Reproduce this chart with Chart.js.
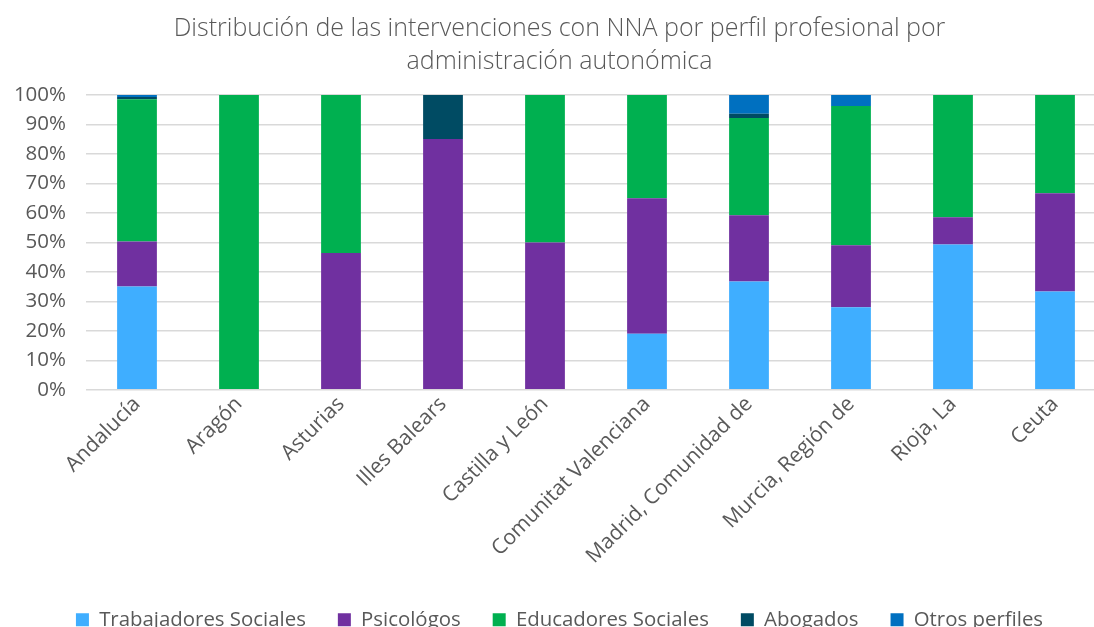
<!DOCTYPE html>
<html>
<head>
<meta charset="utf-8">
<script src="https://cdn.jsdelivr.net/npm/chart.js@4"></script>
<style>
  html, body { margin: 0; padding: 0; overflow: hidden; background: #fff; }
  #wrap { width: 1126px; height: 640px; }
</style>
</head>
<body>
<div id="wrap"><canvas id="chart"></canvas></div>
<script>
const regiones = ["Andalucía", "Aragón", "Asturias", "Illes Balears", "Castilla y León",
  "Comunitat Valenciana", "Madrid, Comunidad de", "Murcia, Región de", "Rioja, La", "Ceuta"];

const trabajadores = [35, 0, 0, 0, 0, 19, 36.7, 28, 49.3, 33.3];
const psicologos   = [15.3, 0, 46.4, 85.1, 50, 46, 22.5, 21, 9.2, 33.4];
const educadores   = [48.3, 100, 53.6, 0, 50, 35, 33, 47.3, 41.5, 33.3];
const abogados     = [0.7, 0, 0, 14.9, 0, 0, 1.4, 0, 0, 0];
const otros        = [0.7, 0, 0, 0, 0, 0, 6.4, 3.7, 0, 0];

const yTicks = [0, 10, 20, 30, 40, 50, 60, 70, 80, 90, 100];

const gris = "#595959";
const font = "'Open Sans', 'Noto Sans', sans-serif";

function serie(label, data, color) {
  return { label, data, backgroundColor: color, borderWidth: 0,
    barPercentage: 0.39, categoryPercentage: 1 };
}

new Chart(document.getElementById("chart"), {
  type: "bar",
  data: {
    labels: regiones,
    datasets: [
      serie("Trabajadores Sociales", trabajadores, "#3FAEFF"),
      serie("Psicológos", psicologos, "#7030A0"),
      serie("Educadores Sociales", educadores, "#00B050"),
      serie("Abogados", abogados, "#004B63"),
      serie("Otros perfiles", otros, "#0070C0")
    ]
  },
  options: {
    responsive: true,
    maintainAspectRatio: false,
    animation: false,
    layout: { padding: { left: 13, right: 20, top: 6, bottom: 0 } },
    plugins: {
      title: {
        display: true,
        text: ["Distribución de las intervenciones con NNA por perfil profesional por", "administración autonómica"],
        color: gris,
        font: { family: font, size: 25, weight: "300", lineHeight: 1.32 },
        padding: { top: 6, bottom: 17 }
      },
      legend: {
        position: "bottom",
        labels: {
          color: gris,
          font: { family: font, size: 20.4 },
          boxWidth: 13, boxHeight: 13,
          padding: 32
        }
      },
      tooltip: { enabled: false }
    },
    scales: {
      x: {
        stacked: true,
        grid: { display: false },
        border: { display: false },
        ticks: { color: gris, font: { family: font, size: 21 }, maxRotation: 45, minRotation: 45, padding: -6 },
        afterFit: axis => { axis.height += 15; }
      },
      y: {
        stacked: true,
        min: 0, max: 100,
        afterBuildTicks: axis => { axis.ticks = yTicks.map(v => ({ value: v })); },
        afterFit: axis => { axis.width = 73; },
        grid: { color: "#d9d9d9", lineWidth: 1.5, drawTicks: false },
        border: { display: false },
        ticks: { color: gris, font: { family: font, size: 20.5 }, padding: 20, callback: v => v + "%" }
      }
    }
  }
});
</script>
</body>
</html>
